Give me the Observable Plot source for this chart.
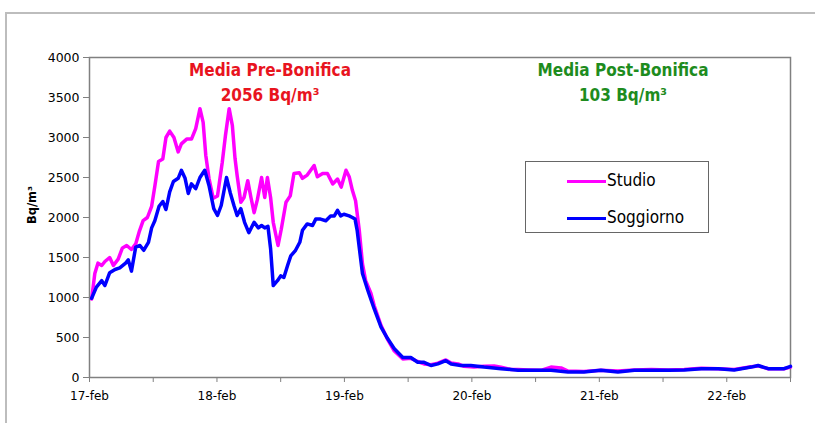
<!DOCTYPE html>
<html>
<head>
<meta charset="utf-8">
<script src="https://cdn.jsdelivr.net/npm/d3@7"></script>
<script src="https://cdn.jsdelivr.net/npm/@observablehq/plot@0.6"></script>
<style>
html,body{margin:0;padding:0;background:#fff;}
#wrap{position:relative;width:815px;height:423px;overflow:hidden;background:#fff;}
#border{position:absolute;left:5px;top:12px;width:830px;height:440px;border-top:2px solid #bdbdbd;border-left:2px solid #bdbdbd;}
#chart{position:absolute;left:0;top:0;}
.ann{position:absolute;transform:translateX(-50%);white-space:nowrap;text-align:center;font-family:'DejaVu Sans Condensed','DejaVu Sans',sans-serif;font-weight:bold;font-size:17px;line-height:25px;}
#ylab{position:absolute;left:32px;top:205px;transform:translate(-50%,-50%) rotate(-90deg);font-family:'DejaVu Sans',sans-serif;font-weight:bold;font-size:11.5px;white-space:nowrap;}
#legend{position:absolute;left:525px;top:161px;width:184px;height:72px;border:1px solid #666;box-sizing:border-box;background:#fff;}
.lrow{position:absolute;left:0;height:20px;font-family:'DejaVu Sans Condensed','DejaVu Sans',sans-serif;font-size:17px;}
.lrow span.sw{position:absolute;left:41px;top:9px;width:39px;height:3px;}
.lrow span.tx{position:absolute;left:81px;top:-2px;white-space:nowrap;line-height:22px;}
</style>
</head>
<body>
<div id="wrap">
  <div id="border"></div>
  <div id="chart"></div>
  <div id="ylab"></div>
  <div id="legend"></div>
</div>
<script>
// ---- data ----
const seriesNames = ["Studio", "Soggiorno"];
const seriesColors = ["#ff00ff", "#0000ff"];
const xTickLabels = ["17-feb", "18-feb", "19-feb", "20-feb", "21-feb", "22-feb"];
const yTicks = [0, 500, 1000, 1500, 2000, 2500, 3000, 3500, 4000];
const yLabel = "Bq/m³";
const annotationTitles = ["Media Pre-Bonifica", "Media Post-Bonifica"];
const annotationValues = ["2056 Bq/m³", "103 Bq/m³"];
const annotationColors = ["#e8141e", "#1e8c1e"];

// hours since 17-feb 00:00
const studioHours = [0.4,1.0,1.6,2.3,2.9,3.8,4.5,5.4,6.2,7.0,7.9,8.7,9.4,10.1,10.9,11.7,12.3,13.0,13.8,14.4,15.1,15.9,16.7,17.3,18.3,19.2,20.0,20.8,21.4,21.9,22.5,23.3,24.1,25.0,25.6,26.3,26.9,27.4,27.8,28.5,29.1,29.8,30.4,31.0,31.6,32.4,33.0,33.5,34.1,34.6,35.5,36.1,37.0,37.8,38.5,39.5,40.1,41.0,42.3,42.9,43.9,44.8,45.8,46.7,47.4,48.3,48.9,49.5,50.1,50.8,51.4,52.0,53.0,53.6,54.9,56.1,57.4,59.0,60.5,61.8,63.0,64.3,65.6,67.1,68.1,69.4,70.5,72.4,74.3,76.2,77.5,79.4,80.7,82.6,85.0,86.9,88.8,90.1,93.1,96.3,99.5,102.6,105.8,109.0,112.0,115.2,118.4,121.4,124.6,125.9,127.8,130.8,132.0];
const studioValues = [980,1300,1430,1400,1450,1500,1400,1480,1620,1650,1600,1670,1830,1960,2000,2140,2390,2700,2730,3000,3080,3000,2820,2920,2980,2980,3110,3360,3190,2775,2490,2240,2270,2690,3025,3360,3150,2740,2525,2190,2250,2460,2250,2060,2220,2500,2250,2500,2250,1940,1650,1850,2190,2270,2550,2560,2490,2530,2650,2510,2550,2550,2420,2480,2380,2590,2510,2340,2210,1840,1420,1210,1050,900,650,480,330,230,240,200,170,160,180,220,180,170,140,130,140,145,130,100,100,95,90,130,120,80,75,90,80,95,100,95,100,115,110,100,135,145,110,110,130];

const soggiornoHours = [0.4,1.3,2.3,2.9,3.8,4.8,5.7,6.8,7.3,7.9,8.7,9.5,10.2,11.1,11.7,12.3,13.1,13.8,14.4,15.1,15.8,16.7,17.3,18.0,18.6,19.2,20.0,20.8,21.7,22.5,23.4,24.1,24.8,25.8,26.5,27.2,27.8,28.5,29.2,30.0,31.0,31.8,32.4,33.0,33.6,34.1,34.6,35.4,36.0,36.6,37.3,37.9,38.8,39.6,40.1,41.0,42.0,42.6,43.5,44.5,45.4,46.1,46.7,47.3,47.9,48.9,49.5,50.0,50.4,50.8,51.4,52.4,53.6,54.9,56.1,57.4,59.0,60.5,61.8,63.0,64.3,65.6,67.1,68.1,69.9,71.8,74.3,77.5,80.7,83.7,86.9,90.1,93.1,96.3,99.5,102.6,105.8,109.0,112.0,115.2,118.4,121.4,124.6,125.9,127.8,130.8,132.0];
const soggiornoValues = [990,1130,1210,1150,1310,1350,1370,1430,1470,1330,1630,1650,1590,1690,1870,1960,2140,2200,2100,2320,2450,2490,2590,2490,2300,2420,2360,2500,2590,2400,2110,2025,2150,2500,2310,2150,2025,2110,1940,1810,1940,1870,1900,1870,1890,1610,1150,1210,1270,1250,1400,1520,1590,1690,1840,1920,1900,1980,1980,1960,2020,2020,2090,2020,2040,2020,2000,1980,1840,1620,1300,1090,860,630,490,360,250,250,190,190,150,170,210,170,150,150,130,110,90,90,90,70,70,90,70,90,90,90,95,110,110,95,130,150,110,110,140];

// ---- build ----
const start = Date.UTC(2008, 1, 17);
const H = 3600e3;
const toRows = (hours, values, name) => hours.map((h, i) => ({t: new Date(start + h * H), v: values[i], s: name}));
const studio = toRows(studioHours, studioValues, seriesNames[0]);
const soggiorno = toRows(soggiornoHours, soggiornoValues, seriesNames[1]);
const xTicks = d3.range(0, 12).map(i => new Date(start + i * 12 * H));

const chart = Plot.plot({
  width: 815,
  height: 423,
  marginLeft: 89,
  marginRight: 25,
  marginTop: 57,
  marginBottom: 46,
  style: {fontFamily: "'DejaVu Sans', sans-serif", fontSize: "12px", color: "#000", background: "transparent"},
  x: {type: "utc", domain: [new Date(start), new Date(start + 132 * H)]},
  y: {domain: [0, 4000]},
  marks: [
    Plot.axisY({ticks: yTicks, tickSize: 6, tickPadding: 4, tickFormat: d => String(d), label: null, stroke: "#808080", fontSize: 12.5}),
    Plot.axisX({ticks: xTicks, tickSize: 5, tickPadding: 9, label: null, stroke: "#808080", fontSize: 12,
      tickFormat: d => { const h = Math.round((d - start) / H); return h % 24 === 0 ? xTickLabels[h / 24] : ""; }}),
    Plot.frame({stroke: "#808080", strokeWidth: 1.5}),
    Plot.line(studio, {x: "t", y: "v", stroke: seriesColors[0], strokeWidth: 3.5, strokeLinejoin: "round"}),
    Plot.line(soggiorno, {x: "t", y: "v", stroke: seriesColors[1], strokeWidth: 3.5, strokeLinejoin: "round"})
  ]
});
document.getElementById("chart").appendChild(chart);

document.getElementById("ylab").textContent = yLabel;

// annotations
const annPos = [[270, 57.5], [623, 57.5]];
annotationTitles.forEach((t, i) => {
  const d = document.createElement("div");
  d.className = "ann";
  d.style.left = annPos[i][0] + "px";
  d.style.top = annPos[i][1] + "px";
  d.style.color = annotationColors[i];
  d.innerHTML = t + "<br>" + annotationValues[i];
  document.getElementById("wrap").appendChild(d);
});

// legend
const leg = document.getElementById("legend");
seriesNames.forEach((n, i) => {
  const r = document.createElement("div");
  r.className = "lrow";
  r.style.top = (9 + i * 37) + "px";
  r.innerHTML = `<span class="sw" style="background:${seriesColors[i]}"></span><span class="tx">${n}</span>`;
  leg.appendChild(r);
});
</script>
</body>
</html>
